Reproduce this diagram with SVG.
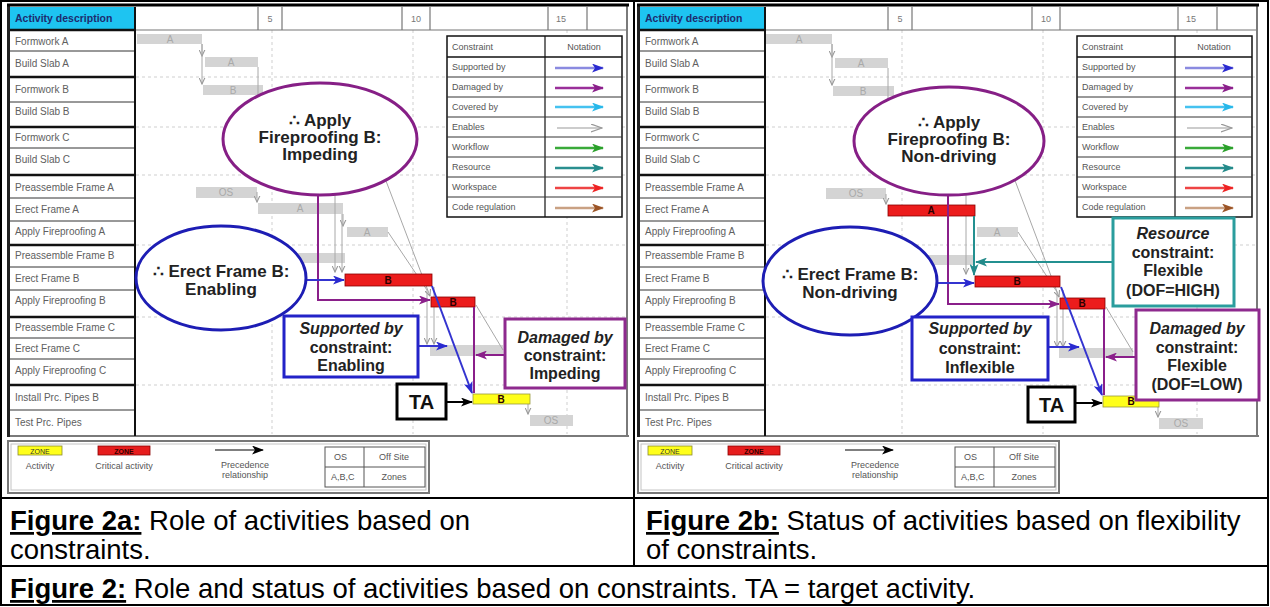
<svg xmlns="http://www.w3.org/2000/svg" width="1270" height="607" viewBox="0 0 1270 607">
<style>
  text { font-family: "Liberation Sans", Arial, sans-serif; }
  .row { font-size: 10px; fill: #606060; }
  .hdr { font-size: 10.5px; font-weight: bold; fill: #1d2b6e; }
  .tick { font-size: 9px; fill: #777; text-anchor: middle; }
  .leg { font-size: 9px; fill: #555; }
  .legC { font-size: 9px; fill: #555; text-anchor: middle; }
  .bar { fill: #d4d4d4; }
  .barTxt { font-size: 10px; fill: #a9a9a9; text-anchor: middle; }
  .crit { fill: #ec1c1c; stroke: #8a0000; stroke-width: 0.8; }
  .act { fill: #ffff1a; stroke: #9a9a40; stroke-width: 0.8; }
  .critTxt { font-size: 10px; fill: #2a0000; text-anchor: middle; font-weight: bold; }
  .ellP { fill: #fff; stroke: #861f86; stroke-width: 3; }
  .ellB { fill: #fff; stroke: #1d1db4; stroke-width: 3; }
  .eTxt { font-size: 17px; font-weight: bold; fill: #222; text-anchor: middle; }
  .bTxt { font-size: 16px; font-weight: bold; fill: #222; text-anchor: middle; }
  .it { font-style: italic; }
  .boxB { fill: #fff; stroke: #2323c8; stroke-width: 3; }
  .boxP { fill: #fff; stroke: #8e2a8e; stroke-width: 3; }
  .boxT { fill: #fff; stroke: #2a9d9d; stroke-width: 3; }
  .boxK { fill: #fff; stroke: #000; stroke-width: 3; }
  .cap { font-size: 27.5px; fill: #000; }
  .capB { font-weight: bold; text-decoration: underline; }
  .grid { stroke: #cfcfcf; stroke-width: 1; stroke-dasharray: 3 3; fill: none; }
  .prec { stroke: #a8a8a8; stroke-width: 1; fill: none; marker-end: url(#hPrec); }
  .precN { stroke: #a8a8a8; stroke-width: 1; fill: none; }
  .thin { stroke: #333; stroke-width: 1; }
  .thick { stroke: #111; stroke-width: 2.5; }
  .cBlue { stroke: #3434d0; stroke-width: 2; fill: none; marker-end: url(#hBlue); }
  .cPurp { stroke: #8a1f8a; stroke-width: 2; fill: none; marker-end: url(#hPurple); }
  .cPurpN { stroke: #8a1f8a; stroke-width: 2; fill: none; }
  .cTeal { stroke: #239090; stroke-width: 2; fill: none; marker-end: url(#hTeal); }
  .cBlack { stroke: #000; stroke-width: 2; fill: none; marker-end: url(#hBlack); }
</style>
<defs>
  <!-- arrowheads -->
  <marker id="hBlue" viewBox="0 0 12 9" refX="11" refY="4.5" markerWidth="12" markerHeight="9" orient="auto" markerUnits="userSpaceOnUse"><path d="M0,0 L12,4.5 L0,9 L3,4.5 Z" fill="#2a2ad0"/></marker>
  <marker id="hPurple" viewBox="0 0 12 9" refX="11" refY="4.5" markerWidth="12" markerHeight="9" orient="auto" markerUnits="userSpaceOnUse"><path d="M0,0 L12,4.5 L0,9 L3,4.5 Z" fill="#8a1f8a"/></marker>
  <marker id="hCyan" viewBox="0 0 12 9" refX="11" refY="4.5" markerWidth="12" markerHeight="9" orient="auto" markerUnits="userSpaceOnUse"><path d="M0,0 L12,4.5 L0,9 L3,4.5 Z" fill="#27b8ea"/></marker>
  <marker id="hGray" viewBox="0 0 12 9" refX="11" refY="4.5" markerWidth="12" markerHeight="9" orient="auto" markerUnits="userSpaceOnUse"><path d="M0,0.5 L11,4.5 L0,8.5" fill="none" stroke="#999" stroke-width="1.2"/></marker>
  <marker id="hGreen" viewBox="0 0 12 9" refX="11" refY="4.5" markerWidth="12" markerHeight="9" orient="auto" markerUnits="userSpaceOnUse"><path d="M0,0 L12,4.5 L0,9 L3,4.5 Z" fill="#2aa02a"/></marker>
  <marker id="hTeal" viewBox="0 0 12 9" refX="11" refY="4.5" markerWidth="12" markerHeight="9" orient="auto" markerUnits="userSpaceOnUse"><path d="M0,0 L12,4.5 L0,9 L3,4.5 Z" fill="#238a8a"/></marker>
  <marker id="hRed" viewBox="0 0 12 9" refX="11" refY="4.5" markerWidth="12" markerHeight="9" orient="auto" markerUnits="userSpaceOnUse"><path d="M0,0 L12,4.5 L0,9 L3,4.5 Z" fill="#ee2222"/></marker>
  <marker id="hBrown" viewBox="0 0 12 9" refX="11" refY="4.5" markerWidth="12" markerHeight="9" orient="auto" markerUnits="userSpaceOnUse"><path d="M0,0 L12,4.5 L0,9 L3,4.5 Z" fill="#9b5426"/></marker>
  <marker id="hBlack" viewBox="0 0 12 9" refX="11" refY="4.5" markerWidth="12" markerHeight="9" orient="auto" markerUnits="userSpaceOnUse"><path d="M0,0 L12,4.5 L0,9 L3,4.5 Z" fill="#000"/></marker>
  <marker id="hPrec" viewBox="0 0 7 7" refX="6.5" refY="3.5" markerWidth="7" markerHeight="7" orient="auto" markerUnits="userSpaceOnUse"><path d="M0,0.5 L6.5,3.5 L0,6.5" fill="none" stroke="#999" stroke-width="1.1"/></marker>

  <!-- schedule sheet shared by both panels: activity list, time scale, grid and legends -->
  <g id="chartBase">
    <rect x="8" y="5" width="620" height="432" fill="#fff"/>
    <!-- grid -->
    <path class="grid" d="M272 30 V434 M413 30 V434 M567 30 V434 M136 77 H626 M136 127 H626 M136 175 H626 M136 245 H626 M136 317 H626 M136 385 H626"/>
    <!-- time scale -->
    <path d="M135 30 H627 M258 7 V30 M282 7 V30 M402 7 V30 M430 7 V30 M548 7 V30 M587 7 V30" stroke="#777" stroke-width="1.2" fill="none"/>
    <text class="tick" x="270" y="22">5</text>
    <text class="tick" x="416" y="22">10</text>
    <text class="tick" x="561" y="22">15</text>
    <!-- activity list -->
    <rect x="9" y="7" width="126" height="23" fill="#1ec4f1"/>
    <text class="hdr" x="15" y="22">Activity description</text>
    <path class="thin" d="M9 51 H135 M9 102 H135 M9 148 H135 M9 198 H135 M9 221 H135 M9 267 H135 M9 290 H135 M9 338 H135 M9 359 H135 M9 410 H135"/>
    <path class="thick" d="M9 30 H135 M9 77 H135 M9 127 H135 M9 175 H135 M9 245 H135 M9 317 H135 M9 385 H135"/>
    <text class="row" x="15" y="44.5">Formwork A</text>
    <text class="row" x="15" y="66.5">Build Slab A</text>
    <text class="row" x="15" y="93">Formwork B</text>
    <text class="row" x="15" y="115">Build Slab B</text>
    <text class="row" x="15" y="141">Formwork C</text>
    <text class="row" x="15" y="163">Build Slab C</text>
    <text class="row" x="15" y="190.5">Preassemble Frame A</text>
    <text class="row" x="15" y="212.5">Erect Frame A</text>
    <text class="row" x="15" y="234.5">Apply Fireproofing A</text>
    <text class="row" x="15" y="259">Preassemble Frame B</text>
    <text class="row" x="15" y="281.5">Erect Frame B</text>
    <text class="row" x="15" y="303.5">Apply Fireproofing B</text>
    <text class="row" x="15" y="330.5">Preassemble Frame C</text>
    <text class="row" x="15" y="351.5">Erect Frame C</text>
    <text class="row" x="15" y="373.5">Apply Fireproofing C</text>
    <text class="row" x="15" y="400.5">Install Prc. Pipes B</text>
    <text class="row" x="15" y="425.5">Test Prc. Pipes</text>
    <!-- sheet frame -->
    <path d="M7 436 H629 M627 5 V437" stroke="#7a7a7a" stroke-width="2" fill="none"/>
    <path d="M135 7 V436" stroke="#111" stroke-width="2" fill="none"/>
    <path d="M8.5 5 V437" stroke="#222" stroke-width="3" fill="none"/>
    <path d="M7 5 H629" stroke="#000" stroke-width="3" fill="none"/>

    <!-- constraint notation table -->
    <rect x="447" y="36" width="175" height="181" fill="#fff" stroke="#111" stroke-width="1.5"/>
    <path d="M545 36 V217" stroke="#111" stroke-width="1.2"/>
    <path d="M447 57 H622" stroke="#111" stroke-width="1.6"/>
    <path d="M447 77 H622 M447 97 H622 M447 117 H622 M447 137 H622 M447 157 H622 M447 177 H622 M447 197 H622" stroke="#333" stroke-width="1"/>
    <text class="leg" x="452" y="49.5">Constraint</text>
    <text class="legC" x="584" y="49.5">Notation</text>
    <text class="leg" x="452" y="70">Supported by</text>
    <text class="leg" x="452" y="90">Damaged by</text>
    <text class="leg" x="452" y="110">Covered by</text>
    <text class="leg" x="452" y="130">Enables</text>
    <text class="leg" x="452" y="150">Workflow</text>
    <text class="leg" x="452" y="170">Resource</text>
    <text class="leg" x="452" y="190">Workspace</text>
    <text class="leg" x="452" y="210">Code regulation</text>
    <path d="M555 68 H603" stroke="#8a8ae0" stroke-width="2.5" marker-end="url(#hBlue)"/>
    <path d="M555 88 H603" stroke="#9a2f9a" stroke-width="2.5" marker-end="url(#hPurple)"/>
    <path d="M555 107 H603" stroke="#45c2f0" stroke-width="2.5" marker-end="url(#hCyan)"/>
    <path d="M557 128 H602" stroke="#999" stroke-width="1.2" marker-end="url(#hGray)"/>
    <path d="M555 148 H603" stroke="#3aaa3a" stroke-width="2.5" marker-end="url(#hGreen)"/>
    <path d="M555 168 H603" stroke="#2a8f8f" stroke-width="2.5" marker-end="url(#hTeal)"/>
    <path d="M555 188 H603" stroke="#ee4444" stroke-width="2.5" marker-end="url(#hRed)"/>
    <path d="M555 208 H603" stroke="#c9a183" stroke-width="2.5" marker-end="url(#hBrown)"/>

    <!-- symbol legend -->
    <rect x="8" y="441" width="421" height="52" fill="#fff" stroke="#777" stroke-width="2"/>
    <rect x="11" y="444" width="415" height="46" fill="none" stroke="#c4c4c4" stroke-width="1"/>
    <rect x="18" y="446" width="44" height="9" fill="#ffff1a" stroke="#8a8a30" stroke-width="0.8"/>
    <text x="40" y="453.5" font-size="7" fill="#333" text-anchor="middle">ZONE</text>
    <text class="legC" x="40" y="469">Activity</text>
    <rect x="98" y="446" width="52" height="9" fill="#e61d1d" stroke="#8a0000" stroke-width="0.8"/>
    <text x="124" y="453.5" font-size="7" fill="#330000" text-anchor="middle" font-weight="bold">ZONE</text>
    <text class="legC" x="124" y="469">Critical activity</text>
    <path d="M215 450 H263" stroke="#000" stroke-width="1.2" marker-end="url(#hBlack)"/>
    <text class="legC" x="245" y="468">Precedence</text>
    <text class="legC" x="245" y="478">relationship</text>
    <rect x="325" y="447" width="100" height="40" fill="#fff" stroke="#555" stroke-width="1"/>
    <path d="M364 447 V487 M325 467 H425" stroke="#555" stroke-width="1"/>
    <text class="leg" x="334" y="460">OS</text>
    <text class="legC" x="394" y="460">Off Site</text>
    <text class="leg" x="331" y="480">A,B,C</text>
    <text class="legC" x="394" y="480">Zones</text>
  </g>
</defs>

<!-- page table -->
<g id="pageTable" fill="none" stroke="#000">
  <rect x="1" y="1" width="1267" height="604" stroke-width="2"/>
  <path d="M634 1 V566 M1 498 H1268 M1 566 H1268" stroke-width="2"/>
</g>

<!-- ===================== Figure 2a ===================== -->
<g id="fig2a">
  <use href="#chartBase"/>

  <g id="a-bars">
    <g id="a-formworkA"><rect class="bar" x="137" y="34" width="65" height="10"/><text class="barTxt" x="170" y="42.5">A</text></g>
    <g id="a-buildSlabA"><rect class="bar" x="205" y="57" width="53" height="10"/><text class="barTxt" x="231" y="65.5">A</text></g>
    <g id="a-formworkB"><rect class="bar" x="203" y="85" width="60" height="10"/><text class="barTxt" x="233" y="93.5">B</text></g>
    <g id="a-preassembleA"><rect class="bar" x="196" y="187" width="61" height="11"/><text class="barTxt" x="226" y="196">OS</text></g>
    <g id="a-erectA"><rect class="bar" x="258" y="203" width="85" height="11"/><text class="barTxt" x="300" y="212">A</text></g>
    <g id="a-fireproofA"><rect class="bar" x="347" y="227" width="41" height="10"/><text class="barTxt" x="367" y="235.5">A</text></g>
    <g id="a-preassembleB"><rect class="bar" x="290" y="253" width="55" height="10"/></g>
    <g id="a-erectC"><rect class="bar" x="430" y="345" width="73" height="11"/></g>
    <g id="a-testPipes"><rect class="bar" x="530" y="415" width="43" height="11"/><text class="barTxt" x="551" y="424">OS</text></g>
  </g>

  <g id="a-precedence">
    <path class="prec" d="M202 44 V56"/>
    <path class="prec" d="M202 44 V84"/>
    <path class="precN" d="M258 67 V110 M263 95 V110"/>
    <path class="prec" d="M257 192 V202"/>
    <path class="prec" d="M343 214 V226"/>
    <path class="prec" d="M335 190 V272"/>
    <path class="prec" d="M342 214 V272"/>
    <path class="prec" d="M378 160 L430 296"/>
    <path class="prec" d="M388 232 L427 290 V344"/>
    <path class="prec" d="M434 287 V344"/>
    <path class="precN" d="M476 305 L503 350"/>
    <path class="prec" d="M528 404 V414"/>
  </g>

  <g id="a-critical">
    <g id="a-erectB"><rect class="crit" x="345" y="274" width="87" height="12"/><text class="critTxt" x="388" y="283.5">B</text></g>
    <g id="a-fireproofB"><rect class="crit" x="431" y="297" width="44" height="10"/><text class="critTxt" x="453" y="305.5">B</text></g>
    <g id="a-installPipes"><rect class="act" x="473" y="394" width="57" height="10"/><text class="critTxt" x="501" y="402.5">B</text></g>
  </g>

  <g id="a-connectors">
    <path class="cPurp" d="M318 195 V300 H430"/>
    <path class="cBlue" d="M306 280 H344"/>
    <path class="cPurpN" d="M474 307 V393"/>
    <path class="cBlue" d="M432 286 L472 393"/>
    <path class="cBlue" d="M418 346 H447"/>
    <path class="cPurp" d="M505 355 H476"/>
    <path class="cBlack" d="M446 402 H472"/>
  </g>

  <g id="a-applyFireproofingB">
    <ellipse class="ellP" cx="320" cy="139" rx="97" ry="56"/>
    <text class="eTxt" x="320" y="126">∴ Apply</text>
    <text class="eTxt" x="320" y="143">Fireproofing B:</text>
    <text class="eTxt" x="320" y="160">Impeding</text>
  </g>
  <g id="a-erectFrameB">
    <ellipse class="ellB" cx="221" cy="278" rx="85" ry="52"/>
    <text class="eTxt" x="221" y="277">∴ Erect Frame B:</text>
    <text class="eTxt" x="221" y="295">Enabling</text>
  </g>
  <g id="a-supportedBy">
    <rect class="boxB" x="284" y="316" width="134" height="61"/>
    <text class="bTxt it" x="351" y="334">Supported by</text>
    <text class="bTxt" x="351" y="353">constraint:</text>
    <text class="bTxt" x="351" y="371">Enabling</text>
  </g>
  <g id="a-damagedBy">
    <rect class="boxP" x="505" y="319" width="120" height="69"/>
    <text class="bTxt it" x="565" y="343" font-weight="normal">Damaged by</text>
    <text class="bTxt" x="565" y="361">constraint:</text>
    <text class="bTxt" x="565" y="379">Impeding</text>
  </g>
  <g id="a-target">
    <rect class="boxK" x="397" y="384" width="49" height="35"/>
    <text x="421.5" y="408.5" font-size="20" font-weight="bold" text-anchor="middle" fill="#111">TA</text>
  </g>
</g>

<!-- ===================== Figure 2b ===================== -->
<g id="fig2b">
  <use href="#chartBase" transform="translate(630,0)"/>

  <g id="b-bars">
    <g id="b-formworkA"><rect class="bar" x="766" y="34" width="66" height="10"/><text class="barTxt" x="799" y="42.5">A</text></g>
    <g id="b-buildSlabA"><rect class="bar" x="835" y="58" width="53" height="10"/><text class="barTxt" x="861" y="66.5">A</text></g>
    <g id="b-formworkB"><rect class="bar" x="833" y="86" width="61" height="10"/><text class="barTxt" x="863" y="94.5">B</text></g>
    <g id="b-preassembleA"><rect class="bar" x="826" y="188" width="60" height="11"/><text class="barTxt" x="856" y="197">OS</text></g>
    <g id="b-fireproofA"><rect class="bar" x="977" y="227" width="41" height="10"/><text class="barTxt" x="997" y="235.5">A</text></g>
    <g id="b-preassembleB"><rect class="bar" x="920" y="255" width="55" height="10"/></g>
    <g id="b-erectC"><rect class="bar" x="1059" y="348" width="74" height="10"/></g>
    <g id="b-testPipes"><rect class="bar" x="1159" y="418" width="44" height="11"/><text class="barTxt" x="1181" y="427">OS</text></g>
  </g>

  <g id="b-precedence">
    <path class="prec" d="M832 44 V57"/>
    <path class="prec" d="M832 44 V85"/>
    <path class="precN" d="M888 68 V110 M893 96 V110"/>
    <path class="prec" d="M886 194 V204"/>
    <path class="prec" d="M966 195 V274"/>
    <path class="prec" d="M1008 162 L1059 297"/>
    <path class="prec" d="M1018 232 L1057 292 V347"/>
    <path class="prec" d="M1063 290 V347"/>
    <path class="precN" d="M1106 307 L1133 352"/>
    <path class="prec" d="M1158 407 V417"/>
  </g>

  <g id="b-critical">
    <g id="b-erectA"><rect class="crit" x="888" y="205" width="87" height="11"/><text class="critTxt" x="931" y="214">A</text></g>
    <g id="b-erectB"><rect class="crit" x="975" y="276" width="85" height="11"/><text class="critTxt" x="1017" y="285">B</text></g>
    <g id="b-fireproofB"><rect class="crit" x="1060" y="298" width="45" height="11"/><text class="critTxt" x="1082" y="307">B</text></g>
    <g id="b-installPipes"><rect class="act" x="1103" y="396" width="56" height="11"/><text class="critTxt" x="1131" y="405">B</text></g>
  </g>

  <g id="b-connectors">
    <path class="cPurp" d="M948 195 V304 H1059"/>
    <path class="cBlue" d="M936 283 H974"/>
    <path class="cTeal" d="M974 216 V275"/>
    <path class="cTeal" d="M1113 262 H976"/>
    <path class="cPurpN" d="M1104 309 V395"/>
    <path class="cBlue" d="M1061 287 L1102 395"/>
    <path class="cBlue" d="M1048 347 H1079"/>
    <path class="cPurp" d="M1136 357 H1106"/>
    <path class="cBlack" d="M1075 403 H1102"/>
  </g>

  <g id="b-applyFireproofingB">
    <ellipse class="ellP" cx="949" cy="141" rx="95" ry="54"/>
    <text class="eTxt" x="949" y="128">∴ Apply</text>
    <text class="eTxt" x="949" y="145">Fireproofing B:</text>
    <text class="eTxt" x="949" y="162">Non-driving</text>
  </g>
  <g id="b-erectFrameB">
    <ellipse class="ellB" cx="850" cy="281" rx="87" ry="54"/>
    <text class="eTxt" x="850" y="280">∴ Erect Frame B:</text>
    <text class="eTxt" x="850" y="298">Non-driving</text>
  </g>
  <g id="b-resource">
    <rect class="boxT" x="1113" y="218" width="121" height="88"/>
    <text class="bTxt it" x="1173" y="239" font-weight="normal">Resource</text>
    <text class="bTxt" x="1173" y="258">constraint:</text>
    <text class="bTxt" x="1173" y="276">Flexible</text>
    <text class="bTxt" x="1173" y="296">(DOF=HIGH)</text>
  </g>
  <g id="b-supportedBy">
    <rect class="boxB" x="912" y="317" width="136" height="63"/>
    <text class="bTxt it" x="980" y="334">Supported by</text>
    <text class="bTxt" x="980" y="354">constraint:</text>
    <text class="bTxt" x="980" y="373">Inflexible</text>
  </g>
  <g id="b-damagedBy">
    <rect class="boxP" x="1136" y="310" width="123" height="90"/>
    <text class="bTxt it" x="1197" y="334" font-weight="normal">Damaged by</text>
    <text class="bTxt" x="1197" y="353">constraint:</text>
    <text class="bTxt" x="1197" y="371">Flexible</text>
    <text class="bTxt" x="1197" y="390">(DOF=LOW)</text>
  </g>
  <g id="b-target">
    <rect class="boxK" x="1028" y="387" width="47" height="35"/>
    <text x="1051.5" y="411.5" font-size="20" font-weight="bold" text-anchor="middle" fill="#111">TA</text>
  </g>
</g>

<!-- captions -->
<g id="captions">
  <text class="cap" x="10" y="530"><tspan class="capB">Figure 2a:</tspan> Role of activities based on</text>
  <text class="cap" x="10" y="559">constraints.</text>
  <text class="cap" x="646" y="530"><tspan class="capB">Figure 2b:</tspan> Status of activities based on flexibility</text>
  <text class="cap" x="646" y="559">of constraints.</text>
  <text class="cap" x="10" y="598"><tspan class="capB">Figure 2:</tspan> Role and status of activities based on constraints. TA = target activity.</text>
</g>
</svg>
